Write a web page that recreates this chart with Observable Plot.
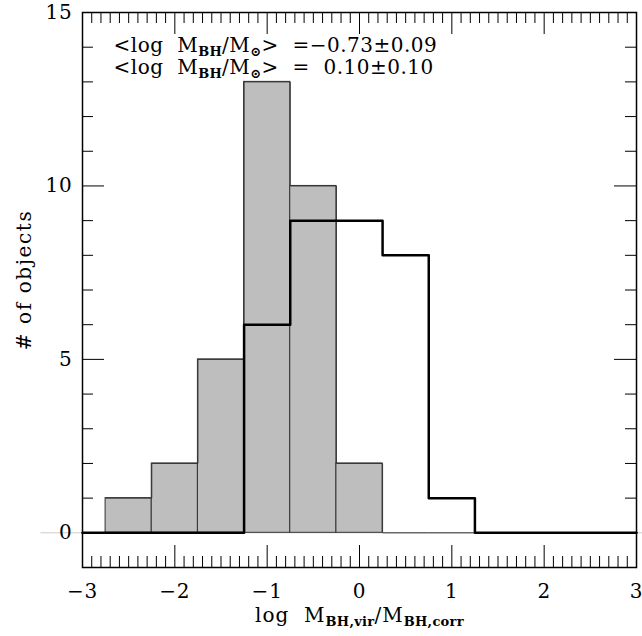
<!DOCTYPE html>
<html>
<head>
<meta charset="utf-8">
<script src="https://cdn.jsdelivr.net/npm/d3@7"></script>
<script src="https://cdn.jsdelivr.net/npm/@observablehq/plot@0.6"></script>
<style>
  html, body { margin: 0; padding: 0; background: white; }
  text { white-space: pre; }
</style>
</head>
<body>
<div id="chart"></div>
<script>
// ---- data ----
const binStart = [-2.75, -2.25, -1.75, -1.25, -0.75, -0.25, 0.25, 0.75, 1.25, 1.75, 2.25];
const binWidth = 0.5;
const virCounts = [1, 2, 5, 13, 10, 2, 0, 0, 0, 0, 0];   // filled grey histogram
const corrCounts = [0, 0, 0, 6, 9, 9, 8, 1, 0, 0, 0];   // black outline histogram
const xDomain = [-3, 3];
const yDomain = [-1, 15];
const xMajor = [-3, -2, -1, 0, 1, 2, 3];
const yMajor = [0, 5, 10, 15];
const xMinor = d3.range(-30, 31).map(i => i / 10).filter(v => Math.abs(v - Math.round(v)) > 1e-9);
const yMinor = d3.range(-1, 16).filter(v => v % 5 !== 0);
const annoLine1 = [["<log  M"], ["BH", 1], ["/M"], ["\u2299", 1], [">  =\u22120.73\u00b10.09"]];
const annoLine2 = [["<log  M"], ["BH", 1], ["/M"], ["\u2299", 1], [">  =  0.10\u00b10.10"]];
const xLabel = [["log  M"], ["BH,vir", 1], ["/M"], ["BH,corr", 1]];
const yLabel = "# of objects";

// ---- derived tables ----
const virBins = binStart.map((x, i) => ({x1: x, x2: x + binWidth, y: virCounts[i]})).filter(d => d.y > 0);
const lastEdge = binStart[binStart.length - 1] + binWidth;
const virStep = binStart.map((x, i) => ({x, y: virCounts[i]})).concat([{x: lastEdge, y: 0}]);
const corrStep = [{x: xDomain[0], y: 0}]
  .concat(binStart.map((x, i) => ({x, y: corrCounts[i]})))
  .concat([{x: lastEdge, y: 0}, {x: xDomain[1], y: 0}]);

const W = 642, H = 636;
const mL = 82, mR = 6, mT = 12, mB = 69;
const fW = W - mL - mR, fH = H - mT - mB;
const major = 22, minor = 11;
const fmt = d => d < 0 ? "\u2212" + (-d) : String(d);
const FONT = "'DejaVu Serif', serif";

const plot = Plot.plot({
  width: W, height: H,
  marginLeft: mL, marginRight: mR, marginTop: mT, marginBottom: mB,
  style: {fontFamily: FONT, fontSize: "20px", background: "white", color: "black"},
  x: {domain: xDomain},
  y: {domain: yDomain},
  marks: [
    Plot.ruleY([0], {x1: -3.45, x2: 3.08, stroke: "#cccccc", strokeWidth: 1}),
    Plot.rectY(virBins, {x1: "x1", x2: "x2", y: "y", fill: "#bebebe", stroke: "#333", strokeWidth: 1}),
    Plot.lineY(virStep, {x: "x", y: "y", curve: "step-after", stroke: "#333", strokeWidth: 1}),
    Plot.lineY(corrStep, {x: "x", y: "y", curve: "step-after", stroke: "black", strokeWidth: 2.5}),
    // ticks (inward, all four sides)
    Plot.tickX(xMajor, {x: d => d, insetTop: fH - major, stroke: "black"}),
    Plot.tickX(xMajor, {x: d => d, insetBottom: fH - major, stroke: "black"}),
    Plot.tickX(xMinor, {x: d => d, insetTop: fH - minor, stroke: "black"}),
    Plot.tickX(xMinor, {x: d => d, insetBottom: fH - minor, stroke: "black"}),
    Plot.tickY(yMajor, {y: d => d, insetRight: fW - major, stroke: "black"}),
    Plot.tickY(yMajor, {y: d => d, insetLeft: fW - major, stroke: "black"}),
    Plot.tickY(yMinor, {y: d => d, insetRight: fW - minor, stroke: "black"}),
    Plot.tickY(yMinor, {y: d => d, insetLeft: fW - minor, stroke: "black"}),
    Plot.frame({stroke: "black", strokeWidth: 1.5}),
    Plot.axisX(xMajor, {tickSize: 0, tickPadding: 16, tickFormat: fmt, label: null, fontSize: 20}),
    Plot.axisY(yMajor, {tickSize: 0, tickPadding: 10, tickFormat: fmt, label: null, fontSize: 20}),
    Plot.text(["@@ylabel"], {text: d => d, frameAnchor: "left", textAnchor: "middle", rotate: -90, dx: -58, dy: -10, fontSize: 20, lineAnchor: "middle"}),
    Plot.text(["@@xlabel"], {text: d => d, frameAnchor: "bottom", dy: 48, fontSize: 20, lineAnchor: "middle"}),
    Plot.text(["@@anno1"], {text: d => d, frameAnchor: "top-left", textAnchor: "start", lineAnchor: "middle", dx: 31, dy: 33, fontSize: 20}),
    Plot.text(["@@anno2"], {text: d => d, frameAnchor: "top-left", textAnchor: "start", lineAnchor: "middle", dx: 31, dy: 55, fontSize: 20})
  ]
});

function rich(el, parts, spacing) {
  const sel = d3.select(el);
  sel.text(null).attr("letter-spacing", spacing);
  let shifted = false;
  parts.forEach(([t, sub]) => {
    const ts = sel.append("tspan").text(t);
    if (sub) {
      ts.attr("font-size", 13).attr("font-weight", "bold").attr("letter-spacing", 0.3);
      if (!shifted) { ts.attr("dy", 4); shifted = true; }
    } else if (shifted) { ts.attr("dy", -4); shifted = false; }
  });
}
const richMap = {
  "@@xlabel": [xLabel, 1],
  "@@anno1": [annoLine1, 0.5],
  "@@anno2": [annoLine2, 0.5],
  "@@ylabel": [[[yLabel]], 1.6]
};
d3.select(plot).selectAll("text").each(function() {
  const key = this.textContent;
  if (richMap[key]) rich(this, richMap[key][0], richMap[key][1]);
});
d3.select(plot).selectAll("g[aria-label*='tick label'] text").attr("letter-spacing", 0.8);

document.getElementById("chart").appendChild(plot);
</script>
</body>
</html>
